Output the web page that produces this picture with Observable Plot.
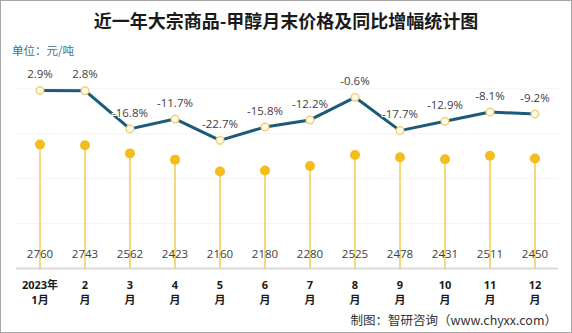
<!DOCTYPE html>
<html><head><meta charset="utf-8">
<script src="https://cdn.jsdelivr.net/npm/d3@7"></script>
<script src="https://cdn.jsdelivr.net/npm/@observablehq/plot@0.6"></script>
<style>
body{margin:0;background:#fff;font-family:"Open Sans","Noto Sans CJK SC",sans-serif;}
#c{position:relative;width:572px;height:333px;background:#fff;overflow:hidden}
#border{position:absolute;left:0;top:0;width:572px;height:333px;box-sizing:border-box;border:1px solid #a6a6a6;pointer-events:none}
#title{position:absolute;left:0;top:8px;width:572px;text-align:center;font:bold 18px "Noto Sans CJK SC",sans-serif;color:#1a1a1a;line-height:24px}
#unit{position:absolute;left:12px;top:42px;font:11.5px "Noto Sans CJK SC",sans-serif;color:#3f6f8c;line-height:16px}
#caption{position:absolute;right:15px;top:311px;font:12.5px "Noto Sans CJK SC",sans-serif;color:#333;line-height:18px}
.plot{position:absolute;left:0;top:60px}
</style></head>
<body>
<div id="c">
  <div id="title">近一年大宗商品-甲醇月末价格及同比增幅统计图</div>
  <div id="unit">单位：元/吨</div>
  <div id="p1" class="plot"></div>
  <div id="p2" class="plot"></div>
  <div id="caption">制图：智研咨询（www.chyxx.com）</div>
  <div id="border"></div>
</div>
<script>
const months = ["1","2","3","4","5","6","7","8","9","10","11","12"];
const tickLabels = ["2023年\n1月","2\n月","3\n月","4\n月","5\n月","6\n月","7\n月","8\n月","9\n月","10\n月","11\n月","12\n月"];
const prices = [2760,2743,2562,2423,2160,2180,2280,2525,2478,2431,2511,2450];
const yoy = [2.9,2.8,-16.8,-11.7,-22.7,-15.8,-12.2,-0.6,-17.7,-12.9,-8.1,-9.2];
const gridTicks = [1000,2000,3000,4000];

const data = months.map((m,i)=>({m, label: tickLabels[i], price: prices[i], yoy: yoy[i]}));

const common = {
  width: 572, height: 273, marginTop: 0, marginBottom: 65, marginLeft: 16, marginRight: 14,
  style: {background: "transparent", fontFamily: "'Open Sans','Noto Sans CJK SC',sans-serif"}
};

const p1 = Plot.plot({
  ...common,
  x: {type: "band", domain: months, padding: 0, axis: null},
  y: {domain: [0, 4630], axis: null},
  marks: [
    Plot.ruleY(gridTicks, {stroke: "#f4f4f4", strokeWidth: 1}),
    Plot.ruleY([0], {stroke: "#d9d9d9", strokeWidth: 2}),
    Plot.ruleX(data, {x: "m", y1: 0, y2: "price", stroke: "#F6D77A", strokeWidth: 2}),
    Plot.dot(data, {x: "m", y: "price", r: 5, fill: "#F3BE1C", stroke: "none"}),
    Plot.text(data, {x: "m", y: 0, dy: -14, text: d => String(d.price), fontSize: 11.5, fill: "#404040"}),
    Plot.text(data, {x: "m", y: 0, dy: 23.5, text: "label", fontSize: 11, fontWeight: "bold", fill: "#1a1a1a", lineHeight: 1.36, lineAnchor: "middle"})
  ]
});
document.getElementById("p1").appendChild(p1);

const p2 = Plot.plot({
  ...common,
  x: {type: "band", domain: months, padding: 0, axis: null},
  y: {domain: [-88.4, 18.28], axis: null},
  marks: [
    Plot.line(data, {x: "m", y: "yoy", stroke: "#1B5A7A", strokeWidth: 3}),
    Plot.dot(data, {x: "m", y: "yoy", r: 3.8, fill: "#FFFBEA", stroke: "#F0D27A", strokeWidth: 1.5}),
    Plot.text(data, {x: "m", y: "yoy", dy: -16, text: d => d.yoy.toFixed(1) + "%", fontSize: 11.5, fill: "#404040", stroke: "white", strokeWidth: 2, paintOrder: "stroke"})
  ]
});
document.getElementById("p2").appendChild(p2);
</script>
</body></html>
